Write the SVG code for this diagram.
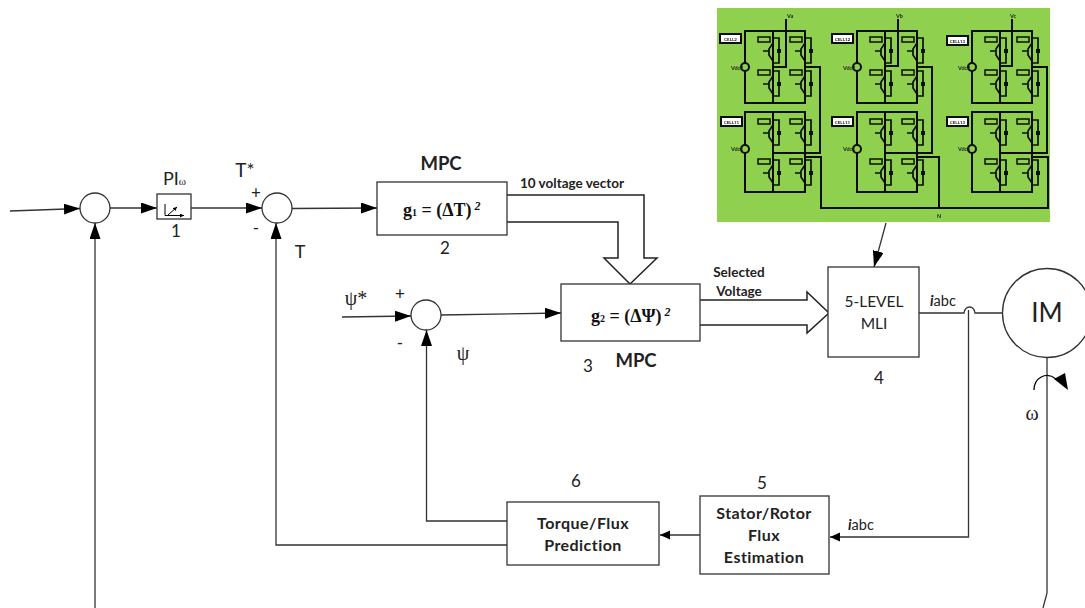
<svg xmlns="http://www.w3.org/2000/svg" width="1085" height="608" viewBox="0 0 1085 608">
<style>
text{font-family:Lato,"Open Sans","Liberation Sans",sans-serif;fill:#222}
.b{font-weight:700}
.s{font-family:"Liberation Serif",serif;font-weight:700;fill:#111}
.g{font-family:"Liberation Serif",serif;fill:#222}
.box{fill:#fff;stroke:#333;stroke-width:1.3}
.ln{fill:none;stroke:#333;stroke-width:1.3}
.hv{fill:none;stroke:#222;stroke-width:1.5}
.w{fill:none;stroke:#0c0c0c;stroke-width:2}
.sw{fill:none;stroke:#0c0c0c;stroke-width:1.7}
.lab{fill:#8fd14f;stroke:#0c0c0c;stroke-width:1.5}
.d{font-size:17px;text-anchor:middle}
.t{font-size:16px;letter-spacing:.45px;text-anchor:middle;font-weight:700}
.m{font-size:13.5px;font-weight:700}
</style>
<defs>
<marker id="a" markerUnits="userSpaceOnUse" markerWidth="17" markerHeight="12" refX="16" refY="5.500" orient="auto"><path d="M0 0L16 5.500L0 11Z" fill="#000"/></marker>
<marker id="sa" markerUnits="userSpaceOnUse" markerWidth="11" markerHeight="10" refX="10" refY="4.500" orient="auto"><path d="M0 0L10 4.500L0 9Z" fill="#000"/></marker>
<marker id="ti" markerUnits="userSpaceOnUse" markerWidth="5" markerHeight="5" refX="4" refY="2" orient="auto"><path d="M0 0L4 2L0 4Z" fill="#000"/></marker>
<filter id="soft" x="0" y="0" width="1" height="1"><feGaussianBlur stdDeviation="0.35"/></filter>
<g id="swi">
<path class="sw" d="M28 7H34V32H28M28 12L24 18V24L28 30M18 20H24"/>
<rect x="32" y="18" width="4" height="4" fill="#0c0c0c"/>
<rect class="lab" x="13" y="6" width="12" height="5"/>
</g>
<g id="cellA">
<path class="w" d="M0 0H60V72H0ZM28 0V72"/>
<circle cx="0" cy="36" r="4" fill="#8fd14f" stroke="#0c0c0c" stroke-width="2"/>
<use href="#swi"/><use href="#swi" y="33"/>
<use href="#swi" x="32"/><use href="#swi" x="32" y="33"/>
</g>
<g id="cellB">
<path class="w" d="M0 0H60V80H0ZM28 0V80"/>
<circle cx="0" cy="37" r="4" fill="#8fd14f" stroke="#0c0c0c" stroke-width="2"/>
<use href="#swi" y="1"/><use href="#swi" y="41"/>
<use href="#swi" x="32" y="1"/><use href="#swi" x="32" y="41"/>
</g>
</defs>

<g id="inverter-image" filter="url(#soft)">
<rect x="717" y="8" width="333" height="214" fill="#8fd14f"/>
<use href="#cellA" x="745" y="31"/><use href="#cellA" x="857" y="31"/><use href="#cellA" x="972" y="31"/>
<use href="#cellB" x="745" y="112"/><use href="#cellB" x="857" y="112"/><use href="#cellB" x="972" y="112"/>
<path class="w" d="M786 19V67H773M805 67H820V153H773M805 157H821V208H1048V157H1032"/>
<path class="w" d="M898 19V66H885M917 67H932V153H885M917 157H939V208"/>
<path class="w" d="M1012 19V66H1000M1032 67H1047V153H1000"/>
<g fill="#fff" stroke="#0c0c0c" stroke-width="2">
<rect x="720" y="34" width="21" height="9"/><rect x="832" y="34" width="21" height="9"/><rect x="947" y="36" width="21" height="9"/>
<rect x="721" y="117" width="21" height="9"/><rect x="832" y="117" width="21" height="9"/><rect x="947" y="117" width="21" height="9"/>
</g>
<g class="b" text-anchor="middle" font-size="4.500">
<text x="730.500" y="40.500">CELL2</text><text x="842.500" y="40.500">CELL12</text><text x="957.500" y="42.500">CELL13</text>
<text x="731.500" y="123.500">CELL11</text><text x="842.500" y="123.500">CELL11</text><text x="957.500" y="123.500">CELL13</text>
</g>
<g class="b" font-size="5.500">
<text x="787" y="18">Va</text><text x="896" y="18">Vb</text><text x="1010" y="18">Vc</text><text x="937" y="218">N</text>
<text x="731" y="70">Vdc2</text><text x="843" y="70">Vdc2</text><text x="958" y="70">Vdc2</text>
<text x="731" y="151">Vdc1</text><text x="843" y="151">Vdc1</text><text x="958" y="151">Vdc1</text>
</g>
</g>

<g id="connectors">
<path class="ln" d="M10 211L80 208.500" marker-end="url(#a)"/>
<path class="ln" d="M110 208H157" marker-end="url(#a)"/>
<path class="ln" d="M191 208H262" marker-end="url(#a)"/>
<path class="ln" d="M95 608V223" marker-end="url(#a)"/>
<path class="ln" d="M292 208.500L377 208" marker-end="url(#a)"/>
<path class="ln" d="M507 545H276V223" marker-end="url(#a)"/>
<path class="ln" d="M342 317L411 316" marker-end="url(#a)"/>
<path class="ln" d="M441 315L561 313" marker-end="url(#a)"/>
<path class="ln" d="M507 521H426.500V330" marker-end="url(#a)"/>
<path class="hv" d="M507 195H644V258H657L630 284L604 258H618V222H507"/>
<path class="hv" d="M700 300H807V292L829 313L807 333V325H700"/>
<path class="ln" d="M886 223L874 267" marker-end="url(#a)"/>
<path class="ln" d="M919 313H964Q965 307 969.500 307T975 313H1002"/>
<path class="ln" d="M968.500 310V537H830" marker-end="url(#sa)"/>
<path class="ln" d="M700 535H660" marker-end="url(#sa)"/>
<path class="ln" d="M1047 357V593L1043 608"/>
<path d="M1034 390C1034 378 1046 371 1056 379" fill="none" stroke="#000" stroke-width="1.300"/>
<path d="M1054 379L1065 373L1068 390Z" fill="#000"/>
</g>

<g id="sum1"><circle class="box" cx="95" cy="208" r="15"/></g>
<g id="sum2"><circle class="box" cx="277" cy="208" r="15"/><text x="256" y="199" text-anchor="middle" font-size="17">+</text><text x="256" y="234" text-anchor="middle" font-size="17">-</text></g>
<g id="sum3"><circle class="box" cx="426" cy="315" r="15"/><text x="400" y="300" text-anchor="middle" font-size="17">+</text><text x="400" y="349" text-anchor="middle" font-size="17">-</text></g>
<g id="pi">
<rect class="box" x="157" y="194" width="34" height="25"/>
<path d="M165 204V215.500H184" fill="none" stroke="#000" stroke-width="1" marker-end="url(#ti)"/>
<path d="M168 215L177 207" fill="none" stroke="#000" stroke-width="1" marker-end="url(#ti)"/>
<text x="163" y="185" font-size="18">PI<tspan class="g" font-size="11">ω</tspan></text>
<text class="d" x="176" y="237">1</text>
</g>
<text x="245" y="177" text-anchor="middle" font-size="19">T*</text>
<text x="300" y="258" text-anchor="middle" font-size="18">T</text>
<text class="g" x="356" y="305" text-anchor="middle" font-size="20">ψ*</text>
<text class="g" x="463" y="360" text-anchor="middle" font-size="20">ψ</text>
<g id="g1">
<rect class="box" x="377" y="182" width="130" height="53"/>
<text class="s" x="403" y="216" font-size="18">g<tspan font-size="10">1</tspan> = (ΔT)<tspan font-size="12" dy="-6" font-style="italic"> 2</tspan></text>
<text class="b" x="441" y="170" text-anchor="middle" font-size="18.500">MPC</text>
<text class="d" x="445" y="254">2</text>
</g>
<text class="m" x="520" y="188" font-size="13">10 voltage vector</text>
<g id="g2">
<rect class="box" x="561" y="284" width="139" height="57"/>
<text class="s" x="591" y="322" font-size="18">g<tspan font-size="10">2</tspan> = (ΔΨ)<tspan font-size="12" dy="-6" font-style="italic"> 2</tspan></text>
<text class="d" x="588" y="372">3</text>
<text class="b" x="636" y="367" text-anchor="middle" font-size="18.500">MPC</text>
</g>
<text class="m" x="739" y="277" text-anchor="middle">Selected</text>
<text class="m" x="739" y="296" text-anchor="middle">Voltage</text>
<g id="mli">
<rect class="box" x="828" y="267" width="91" height="90"/>
<text x="874" y="307" text-anchor="middle" font-size="15.500">5-LEVEL</text>
<text x="874" y="329" text-anchor="middle" font-size="15.500">MLI</text>
<text class="d" x="879" y="384">4</text>
</g>
<text x="930" y="306" font-size="14.500"><tspan font-style="italic" font-weight="700">i</tspan>abc</text>
<g id="im"><circle class="box" cx="1047" cy="313" r="44.500"/><text x="1047" y="322" text-anchor="middle" font-size="26">IM</text></g>
<text class="g" x="1032" y="420" text-anchor="middle" font-size="20">ω</text>
<g id="est">
<rect class="box" x="700" y="496" width="129" height="78"/>
<text class="t" x="764" y="519">Stator/Rotor</text>
<text class="t" x="764" y="541">Flux</text>
<text class="t" x="764" y="563">Estimation</text>
<text class="d" x="762" y="489">5</text>
</g>
<text x="848" y="530" font-size="14.500"><tspan font-style="italic" font-weight="700">i</tspan>abc</text>
<g id="pred">
<rect class="box" x="507" y="502" width="152" height="63"/>
<text class="t" x="583" y="529">Torque/Flux</text>
<text class="t" x="583" y="551">Prediction</text>
<text class="d" x="576" y="487">6</text>
</g>
</svg>
